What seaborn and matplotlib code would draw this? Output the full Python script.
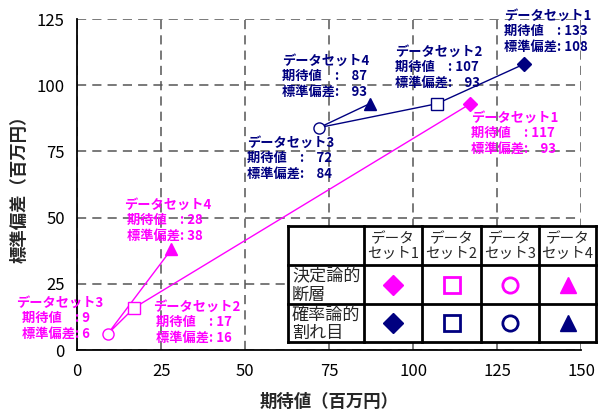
import matplotlib
matplotlib.use("Agg")
import matplotlib.pyplot as plt
import seaborn as sns
import pandas as pd

# ---------------- data ----------------
sets = ["データセット1", "データセット2", "データセット3", "データセット4"]
det_x = [117, 17, 9, 28]      # 決定論的断層 期待値
det_y = [93, 16, 6, 38]       # 決定論的断層 標準偏差
prob_x = [133, 107, 72, 87]   # 確率論的割れ目 期待値
prob_y = [108, 93, 84, 93]    # 確率論的割れ目 標準偏差
path_order = [3, 2, 1, 0]     # line: set4 -> set3 -> set2 -> set1
xticks = [0, 25, 50, 75, 100, 125, 150]
yticks = [0, 25, 50, 75, 100, 125]
row_labels = ["決定論的\n断層", "確率論的\n割れ目"]
col_labels = ["データ\nセット1", "データ\nセット2", "データ\nセット3", "データ\nセット4"]

MAG = "#FF00FF"
NAVY = "#000080"
markers = ["D", "s", "o", "^"]
filled = [True, False, False, True]
msizes = [7, 8, 8, 9]

sns.set_theme(style="white")
plt.rcParams["font.family"] = ["Noto Sans CJK JP", "DejaVu Sans"]

fig = plt.figure(figsize=(6.04, 4.11), dpi=100)
ax = fig.add_axes([77.3 / 604, (411 - 350) / 411, 504 / 604, 331 / 411])

# lines
for xs, ys, col in [(det_x, det_y, MAG), (prob_x, prob_y, NAVY)]:
    df = pd.DataFrame({"x": [xs[i] for i in path_order], "y": [ys[i] for i in path_order]})
    sns.lineplot(data=df, x="x", y="y", sort=False, color=col, lw=1.0, ax=ax, zorder=3)
    for i in range(4):
        ax.plot(xs[i], ys[i], marker=markers[i], ms=msizes[i], color=col,
                mfc=col if filled[i] else "white", mec=col, mew=1.0, ls="none",
                zorder=4, clip_on=False)

ax.set_xlim(0, 150)
ax.set_ylim(0, 125)
ax.set_xticks(xticks)
ax.set_yticks(yticks)
ax.set_xticklabels([str(t) for t in xticks], fontsize=12)
ax.set_yticklabels([str(t) for t in yticks], fontsize=12)
ax.tick_params(axis="both", direction="in", length=4, width=1, color="black",
               pad=9, labelcolor="black")
ax.grid(True, color="#555555", ls=(0, (6, 4)), lw=1.1)
for s in ["top", "right"]:
    ax.spines[s].set_visible(False)
for s in ["left", "bottom"]:
    ax.spines[s].set_color("black")
    ax.spines[s].set_linewidth(1.3)
ax.set_xlabel("期待値（百万円）", fontsize=12.5, fontweight="bold", labelpad=10)
ax.set_ylabel("標準偏差（百万円）", fontsize=12.5, fontweight="bold", labelpad=6)

FS = "\u2007"

# annotations: left edge / centre of middle line, in data coords
def note(x, y, i, ex, sd, col, pad, indent=""):
    if pad:
        e = FS * (3 - len(str(ex))) + str(ex)
        s = FS * (3 - len(str(sd))) + str(sd)
    else:
        e, s = str(ex), str(sd)
    txt = f"{sets[i]}\n{indent}期待値　: {e}\n{indent}標準偏差: {s}"
    ax.text(x, y, txt, color=col, fontsize=9.5, fontweight="bold", ha="left",
            va="center", linespacing=1.13, clip_on=False, zorder=6)

note(127.0, 120.5, 0, prob_x[0], prob_y[0], NAVY, True)
note(94.5, 106.9, 1, prob_x[1], prob_y[1], NAVY, True)
note(60.9, 103.5, 3, prob_x[3], prob_y[3], NAVY, True)
note(50.5, 72.5, 2, prob_x[2], prob_y[2], NAVY, True)
note(117.2, 81.9, 0, det_x[0], det_y[0], MAG, True)
note(13.9, 49.1, 3, det_x[3], det_y[3], MAG, False, " ")
note(-18.2, 12.1, 2, det_x[2], det_y[2], MAG, False, "  ")
note(22.5, 10.6, 1, det_x[1], det_y[1], MAG, False, " ")

# table legend
tx0, ty0, tw, th = 288, 226, 308, 116
tax = fig.add_axes([tx0 / 604, (411 - ty0 - th) / 411, tw / 604, th / 411], zorder=10)
tax.set_xlim(0, tw)
tax.set_ylim(th, 0)
tax.axis("off")
tax.add_patch(plt.Rectangle((0, 0), tw, th, facecolor="white", edgecolor="none"))
cols = [0, 76, 134, 193, 251, tw]
rows = [0, 39, 78, th]
for c in cols:
    tax.plot([c, c], [0, th], color="black", lw=2, clip_on=False, solid_capstyle="projecting")
for r in rows:
    tax.plot([0, tw], [r, r], color="black", lw=2, clip_on=False, solid_capstyle="projecting")
for j, lab in enumerate(col_labels):
    tax.text((cols[j + 1] + cols[j + 2]) / 2, (rows[0] + rows[1]) / 2 + 1, lab,
             ha="center", va="center", fontsize=10.5, linespacing=1.1)
for r, lab in enumerate(row_labels):
    tax.text(cols[0] + 4, (rows[r + 1] + rows[r + 2]) / 2 + 1, lab,
             ha="left", va="center", fontsize=12.3, linespacing=1.05)
for r, col in enumerate([MAG, NAVY]):
    for j in range(4):
        tax.plot((cols[j + 1] + cols[j + 2]) / 2, (rows[r + 1] + rows[r + 2]) / 2,
                 marker=markers[j], ms=msizes[j] + 3, color=col,
                 mfc=col if filled[j] else "white", mec=col, mew=2 if not filled[j] else 1)

fig.savefig("out.png", dpi=100)
